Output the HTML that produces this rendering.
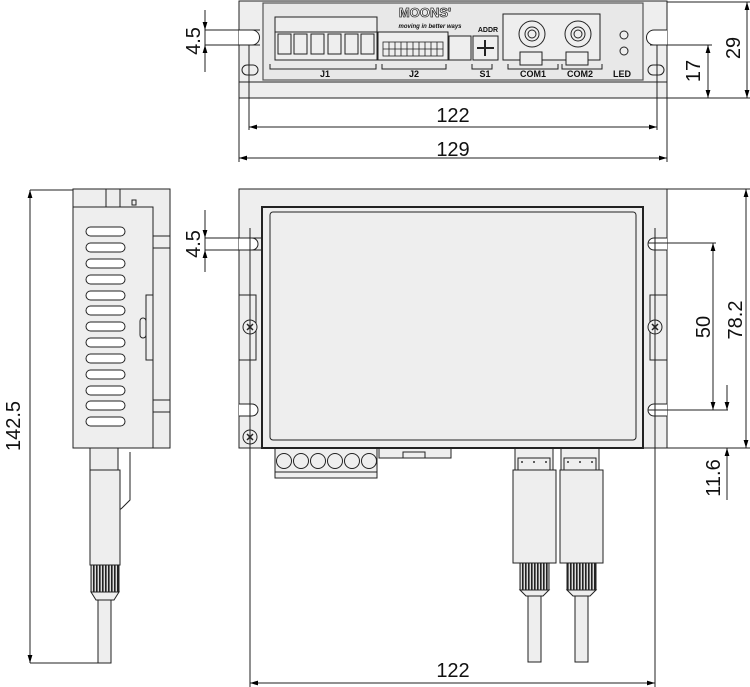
<!DOCTYPE html>
<html><head><meta charset="utf-8"><style>
html,body{margin:0;padding:0;background:#fff;}
svg{display:block;font-family:"Liberation Sans",sans-serif;}
</style></head><body>
<svg width="750" height="687" viewBox="0 0 750 687" xmlns="http://www.w3.org/2000/svg">
<defs>
<marker id="a" viewBox="0 0 10 10" refX="10" refY="5" markerWidth="8" markerHeight="8" orient="auto-start-reverse"><path d="M0,2 L10,5 L0,8z" fill="#000"/></marker>
<pattern id="k" width="3" height="10" patternUnits="userSpaceOnUse"><rect width="3" height="10" fill="#ddd"/><rect width="1.6" height="10" fill="#222"/></pattern>
</defs>
<g stroke="#222" stroke-width="1" fill="#eee">
<!-- TOP VIEW -->
<rect x="239" y="1" width="428" height="97"/>
<line x1="239" y1="82" x2="667" y2="82"/>
<rect x="263" y="3" width="380" height="77" fill="#e8e8e8" stroke="#555" stroke-width="1.2"/>
<path d="M239,30 H252 A7.5,7.5 0 0 1 252,45 H239" fill="#fff"/>
<path d="M667,30 H654 A7.5,7.5 0 0 0 654,45 H667" fill="#fff"/>
<rect x="242" y="65" width="16" height="10" rx="5"/>
<rect x="648" y="65" width="16" height="10" rx="5"/>
<rect x="275" y="17" width="102" height="43"/>
<line x1="275" y1="32" x2="377" y2="32"/>
<rect x="278" y="34" width="13" height="20"/><rect x="294" y="34" width="13" height="20"/><rect x="311" y="34" width="13" height="20"/><rect x="328" y="34" width="13" height="20"/><rect x="345" y="34" width="13" height="20"/><rect x="361" y="34" width="13" height="20"/>
<rect x="378" y="32" width="70" height="28"/>
<g fill="none" stroke-width="0.8">
<rect x="383" y="42" width="60" height="14"/>
<path d="M383,49H443 M389,42V56 M395,42V56 M401,42V56 M407,42V56 M413,42V56 M419,42V56 M425,42V56 M431,42V56 M437,42V56"/>
</g>
<rect x="449" y="36" width="22" height="24"/>
<rect x="473" y="36" width="25" height="24"/>
<path d="M485,40V56 M477,48H494" fill="none" stroke-width="2"/>
<rect x="503" y="14" width="97" height="46"/>
<circle cx="532" cy="34" r="13"/><circle cx="532" cy="34" r="7"/><circle cx="532" cy="34" r="4"/>
<circle cx="578" cy="34" r="13"/><circle cx="578" cy="34" r="7"/><circle cx="578" cy="34" r="4"/>
<rect x="520" y="52" width="22" height="13"/><rect x="566" y="52" width="22" height="13"/>
<circle cx="624" cy="35" r="4"/><circle cx="624" cy="51" r="4"/>
<path d="M270,64V69H376V64 M382,64V69H446V64 M472,64V69H492V64 M508,64V69H558V64 M562,64V69H602V64" fill="none"/>
</g>
<g font-size="9" font-weight="bold" text-anchor="middle" fill="#111">
<text x="325" y="77">J1</text><text x="414" y="77">J2</text><text x="485" y="77">S1</text>
<text x="533" y="77">COM1</text><text x="580" y="77">COM2</text><text x="622" y="77">LED</text>
<text x="488" y="32" font-size="7">ADDR</text>
<text x="425" y="17" font-size="13" fill="#fff" stroke="#333" stroke-width="0.8">MOONS'</text>
<text x="430" y="28" font-size="6" font-style="italic">moving in better ways</text>
</g>
<g stroke="#222" stroke-width="1" fill="none">
<path d="M205,10V72 M205,30H260 M205,45H260"/>
<line x1="205" y1="12" x2="205" y2="30" marker-end="url(#a)"/>
<line x1="205" y1="63" x2="205" y2="45" marker-end="url(#a)"/>
<path d="M249,45V130 M657,45V130 M239,98V162 M667,98V162"/>
<line x1="249" y1="127" x2="657" y2="127" marker-start="url(#a)" marker-end="url(#a)"/>
<line x1="239" y1="158" x2="667" y2="158" marker-start="url(#a)" marker-end="url(#a)"/>
<path d="M650,45H712 M667,2H750 M667,98H750"/>
<line x1="708" y1="45" x2="708" y2="98" marker-start="url(#a)" marker-end="url(#a)"/>
<line x1="747" y1="2" x2="747" y2="98" marker-start="url(#a)" marker-end="url(#a)"/>
</g>
<g font-size="20" fill="#111" text-anchor="middle">
<text x="453" y="122">122</text><text x="453" y="156">129</text>
<text transform="translate(200,41) rotate(-90)">4.5</text>
<text transform="translate(700,71) rotate(-90)">17</text>
<text transform="translate(740,48) rotate(-90)">29</text>
</g>

<!-- SIDE VIEW -->
<g stroke="#222" stroke-width="1" fill="#eee">
<rect x="90" y="448" width="28" height="22"/>
<path d="M118,470 V505 Q118,512 122,508 L130,500 V452" fill="none"/>
<rect x="90" y="470" width="30" height="95"/>
<rect x="91" y="565" width="28" height="27" fill="url(#k)"/>
<path d="M91,592 L96,600 H114 L119,592z"/>
<rect x="98" y="600" width="13" height="63"/>
<rect x="73" y="189" width="97" height="259"/>
<path d="M106,189V207 M120,189V207 M153,236V248 M153,400V412 M153,236H170 M153,248H170 M153,400H170 M153,412H170" fill="none"/>
<rect x="73" y="207" width="80" height="241"/>
<rect x="146" y="295" width="7" height="65"/>
<rect x="140" y="318" width="6" height="20" rx="3"/>
<rect x="132" y="200" width="4" height="5"/>
</g>
<g stroke="#222" stroke-width="1" fill="#fff">
<rect x="86" y="227" width="39" height="9" rx="4.5"/><rect x="86" y="243" width="39" height="9" rx="4.5"/><rect x="86" y="259" width="39" height="9" rx="4.5"/><rect x="86" y="275" width="39" height="9" rx="4.5"/><rect x="86" y="291" width="39" height="9" rx="4.5"/><rect x="86" y="306" width="39" height="9" rx="4.5"/><rect x="86" y="322" width="39" height="9" rx="4.5"/><rect x="86" y="338" width="39" height="9" rx="4.5"/><rect x="86" y="354" width="39" height="9" rx="4.5"/><rect x="86" y="370" width="39" height="9" rx="4.5"/><rect x="86" y="386" width="39" height="9" rx="4.5"/><rect x="86" y="401" width="39" height="9" rx="4.5"/><rect x="86" y="417" width="39" height="9" rx="4.5"/>
</g>
<g stroke="#222" fill="none">
<path d="M30,190H73 M30,663H110"/>
<line x1="30" y1="190" x2="30" y2="663" marker-start="url(#a)" marker-end="url(#a)"/>
</g>
<text transform="translate(20,426) rotate(-90)" font-size="20" text-anchor="middle" fill="#111">142.5</text>

<!-- FRONT VIEW -->
<g stroke="#222" stroke-width="1" fill="#eee">
<rect x="275" y="448" width="102" height="30"/>
<line x1="275" y1="472" x2="377" y2="472"/>
<circle cx="284" cy="461" r="7.5"/><circle cx="301" cy="461" r="7.5"/><circle cx="318" cy="461" r="7.5"/><circle cx="335" cy="461" r="7.5"/><circle cx="352" cy="461" r="7.5"/><circle cx="369" cy="461" r="7.5"/>
<rect x="379" y="448" width="72" height="10"/>
<rect x="403" y="452" width="22" height="6"/>
<rect x="515" y="448" width="38" height="22"/><path d="M518,470V458H550V470" fill="none"/>
<rect x="561" y="448" width="38" height="22"/><path d="M564,470V458H596V470" fill="none"/>
<rect x="513" y="470" width="43" height="93"/>
<rect x="560" y="470" width="43" height="93"/>
<rect x="520" y="563" width="29" height="27" fill="url(#k)"/>
<rect x="567" y="563" width="29" height="27" fill="url(#k)"/>
<path d="M520,590 L526,596 H543 L549,590z M567,590 L573,596 H590 L596,590z"/>
<rect x="528" y="596" width="13" height="66"/>
<rect x="575" y="596" width="13" height="66"/>
<rect x="239" y="189" width="428" height="259"/>
<rect x="262" y="207" width="381" height="241" stroke-width="2"/>
<rect x="270" y="212" width="366" height="228" rx="3"/>
<path d="M239,295H256V360H239 M667,295H650V360H667" fill="none"/>
<path d="M239,238H252 A6,6 0 0 1 252,250 H239" fill="#fff"/>
<path d="M239,404H252 A6,6 0 0 1 252,416 H239" fill="#fff"/>
<path d="M667,238H654 A6,6 0 0 0 654,250 H667" fill="#fff"/>
<path d="M667,404H654 A6,6 0 0 0 654,416 H667" fill="#fff"/>
<circle cx="250" cy="327" r="7"/><circle cx="250" cy="437" r="7"/><circle cx="655" cy="327" r="7"/>
</g>
<g fill="#333">
<circle cx="522" cy="462" r="1"/><circle cx="534" cy="462" r="1"/><circle cx="546" cy="462" r="1"/>
<circle cx="568" cy="462" r="1"/><circle cx="580" cy="462" r="1"/><circle cx="592" cy="462" r="1"/>
</g>
<g stroke="#222" stroke-width="1.5" fill="none">
<path d="M247,324L253,330M253,324L247,330 M247,434L253,440M253,434L247,440 M652,324L658,330M658,324L652,330"/>
</g>
<g stroke="#222" stroke-width="1" fill="none">
<path d="M250,228V687 M655,228V687"/>
<path d="M205,210V272 M205,238H262 M205,250H262"/>
<line x1="205" y1="215" x2="205" y2="238" marker-end="url(#a)"/>
<line x1="205" y1="268" x2="205" y2="250" marker-end="url(#a)"/>
<line x1="250" y1="683" x2="655" y2="683" marker-start="url(#a)" marker-end="url(#a)"/>
<path d="M667,189H750 M667,448H750 M648,243H716 M648,410H728"/>
<line x1="746" y1="189" x2="746" y2="448" marker-start="url(#a)" marker-end="url(#a)"/>
<line x1="713" y1="243" x2="713" y2="410" marker-start="url(#a)" marker-end="url(#a)"/>
<line x1="727" y1="385" x2="727" y2="410" marker-end="url(#a)"/>
<line x1="727" y1="500" x2="727" y2="448" marker-end="url(#a)"/>
</g>
<g font-size="20" fill="#111" text-anchor="middle">
<text transform="translate(200,244) rotate(-90)">4.5</text>
<text transform="translate(710,327) rotate(-90)">50</text>
<text transform="translate(742,320) rotate(-90)">78.2</text>
<text transform="translate(720,478) rotate(-90)">11.6</text>
<text x="453" y="677">122</text>
</g>
</svg>
</body></html>
